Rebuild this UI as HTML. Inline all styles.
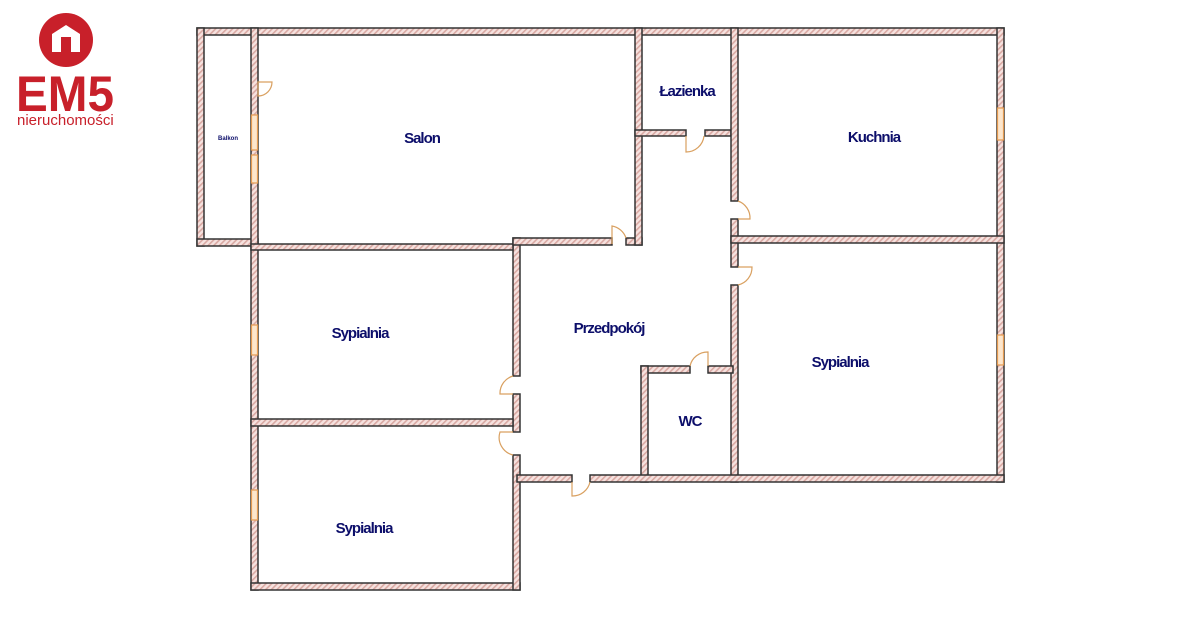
<!DOCTYPE html>
<html><head><meta charset="utf-8"><style>
body{margin:0;background:#fff;width:1200px;height:618px;overflow:hidden;font-family:"Liberation Sans",sans-serif}
svg{position:absolute;left:0;top:0}
</style></head><body>
<svg width="1200" height="618" viewBox="0 0 1200 618">
<defs>
<pattern id="h" width="4" height="4" patternUnits="userSpaceOnUse" patternTransform="rotate(45)">
<rect width="4" height="4" fill="#f6e2df"/><rect width="1.6" height="4" fill="#d9a9a3"/>
</pattern>
</defs>
<!-- logo -->
<circle cx="66" cy="40" r="27" fill="#c8202a"/>
<path d="M52 52 V34 L66 25 L80 34 V52 H71 V37 H61 V52 Z" fill="#fff"/>
<rect x="63" y="38" width="6" height="14" fill="#c8202a"/>
<text x="16" y="111" font-size="50" font-weight="bold" fill="#c8202a" font-family="Liberation Sans,sans-serif" textLength="98" lengthAdjust="spacingAndGlyphs">EM5</text>
<text x="17" y="125" font-size="15" fill="#c8202a" font-family="Liberation Sans,sans-serif">nieruchomości</text>
<g fill="url(#h)" stroke="#333" stroke-width="1.5">
<rect x="197" y="28" width="807" height="7"/>
<rect x="997" y="28" width="7" height="454"/>
<rect x="197" y="28" width="7" height="218"/>
<rect x="197" y="239" width="61" height="7"/>
<rect x="251" y="28" width="7" height="562"/>
<rect x="251" y="583" width="269" height="7"/>
<rect x="513" y="238" width="7" height="138"/>
<rect x="513" y="394" width="7" height="38"/>
<rect x="513" y="455" width="7" height="135"/>
<rect x="251" y="419" width="262" height="7"/>
<rect x="251" y="244" width="262" height="6"/>
<rect x="513" y="238" width="99" height="7"/>
<rect x="626" y="238" width="16" height="7"/>
<rect x="635" y="28" width="7" height="217"/>
<rect x="635" y="130" width="51" height="6"/>
<rect x="705" y="130" width="26" height="6"/>
<rect x="731" y="28" width="7" height="173"/>
<rect x="731" y="219" width="7" height="48"/>
<rect x="731" y="285" width="7" height="197"/>
<rect x="731" y="236" width="273" height="7"/>
<rect x="641" y="366" width="49" height="7"/>
<rect x="708" y="366" width="25" height="7"/>
<rect x="641" y="366" width="7" height="116"/>
<rect x="517" y="475" width="55" height="7"/>
<rect x="590" y="475" width="414" height="7"/>
</g>
<!-- windows -->
<g fill="#fde6cc" stroke="#e49a50" stroke-width="1.2">
<rect x="251.5" y="115" width="6" height="35"/><rect x="251.5" y="155" width="6" height="28"/>
<rect x="997.5" y="108" width="6" height="32"/><rect x="997.5" y="335" width="6" height="30"/>
<rect x="251.5" y="325" width="6" height="30"/><rect x="251.5" y="490" width="6" height="30"/>
</g>
<!-- doors -->
<g fill="none" stroke="#d9a060" stroke-width="1.2">
<path d="M258 82 H272 A14 14 0 0 1 258 96 Z"/>
<path d="M612 244 V226 A18 18 0 0 1 626 238"/>
<path d="M686 136 V152 A18 18 0 0 0 704 136"/>
<path d="M738 201 A18 18 0 0 1 750 219 H738"/>
<path d="M738 267 H752 A18 18 0 0 1 738 285"/>
<path d="M513 376 A18 18 0 0 0 500 394 H513"/>
<path d="M513 432 H500 A18 18 0 0 0 513 455"/>
<path d="M572 482 V496 A18 18 0 0 0 590 482"/>
<path d="M690 366 A18 18 0 0 1 708 352 V366"/>
</g>
<g fill="#0c0e6a" font-family="Liberation Sans,sans-serif" font-weight="bold" font-size="15" text-anchor="middle" letter-spacing="-1">
<text x="422" y="143">Salon</text>
<text x="687" y="96">Łazienka</text>
<text x="874" y="142">Kuchnia</text>
<text x="360" y="338">Sypialnia</text>
<text x="609" y="333">Przedpokój</text>
<text x="840" y="367">Sypialnia</text>
<text x="690" y="426">WC</text>
<text x="364" y="533">Sypialnia</text>
<text x="228" y="140" font-size="6" letter-spacing="0">Balkon</text>
</g>
</svg>
</body></html>
